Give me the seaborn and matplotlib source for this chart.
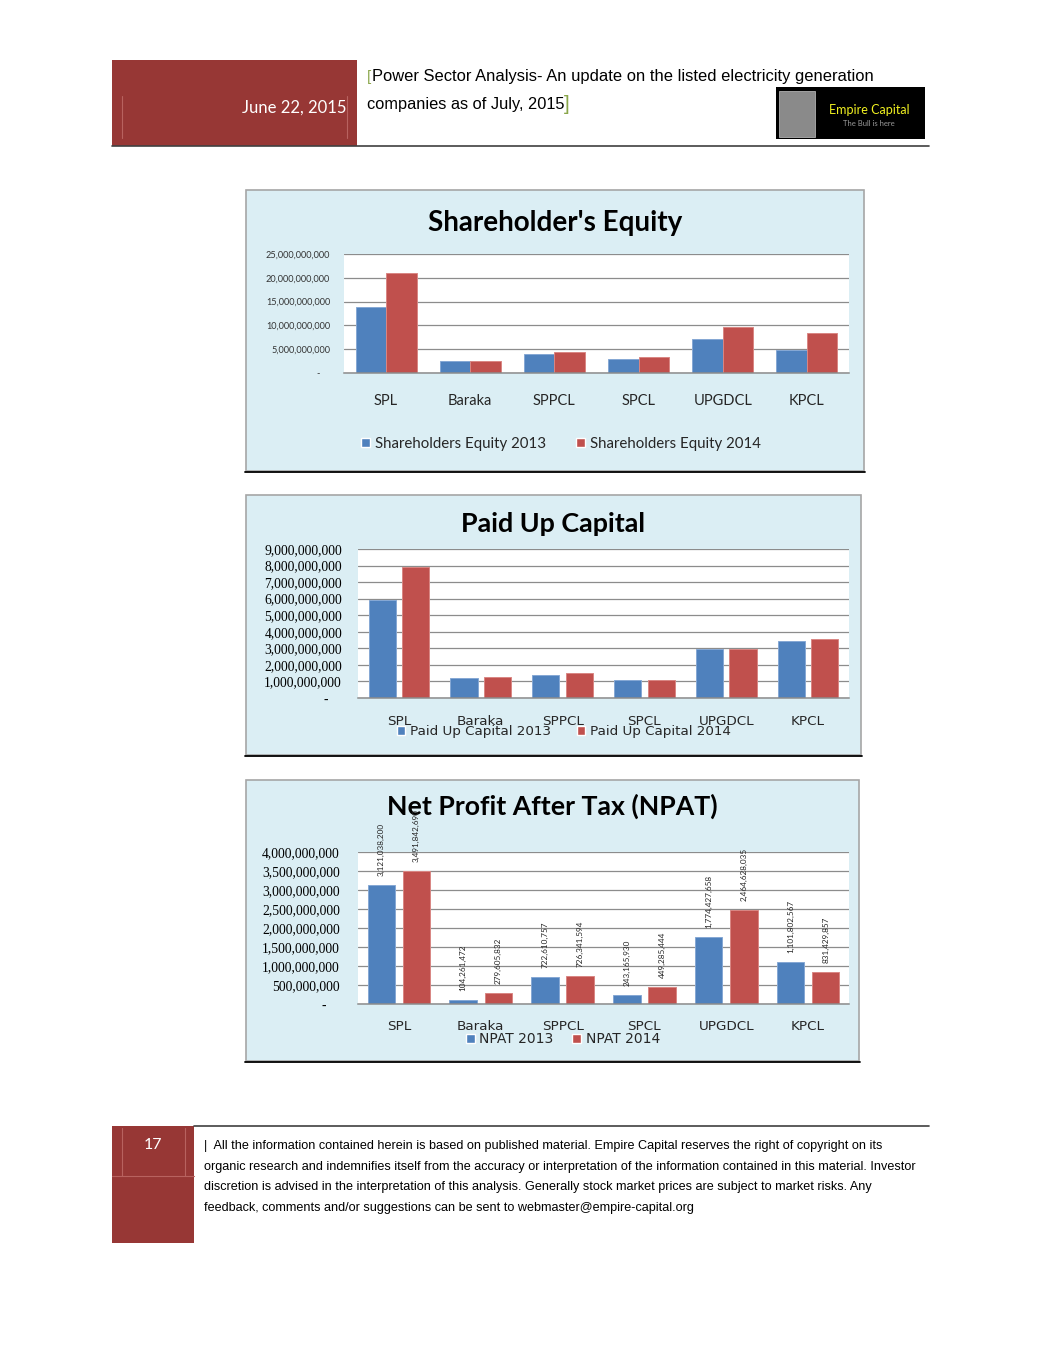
import numpy as np
import pandas as pd
import matplotlib
matplotlib.use('Agg')
import matplotlib.pyplot as plt
import seaborn as sns
from matplotlib.patches import Rectangle, Patch
from matplotlib.ticker import FuncFormatter

# data
companies = ['SPL', 'Baraka', 'SPPCL', 'SPCL', 'UPGDCL', 'KPCL']

equity_names = ['Shareholders Equity 2013', 'Shareholders Equity 2014']
equity_2013 = [13.85e9, 2.45e9, 4.05e9, 3.00e9, 7.10e9, 4.75e9]
equity_2014 = [20.95e9, 2.58e9, 4.47e9, 3.35e9, 9.57e9, 8.30e9]

paidup_names = ['Paid Up Capital 2013', 'Paid Up Capital 2014']
paidup_2013 = [5.93e9, 1.21e9, 1.36e9, 1.09e9, 2.98e9, 3.46e9]
paidup_2014 = [7.89e9, 1.28e9, 1.48e9, 1.09e9, 2.98e9, 3.58e9]

npat_names = ['NPAT 2013', 'NPAT 2014']
npat_2013 = [3121038200, 104261472, 722610757, 243165930, 1774427658, 1101802567]
npat_2014 = [3491842690, 279605832, 726341594, 449285444, 2464628035, 831429857]

footer_lines = [
    '|  All the information contained herein is based on published material. Empire Capital reserves the right of copyright on its',
    'organic research and indemnifies itself from the accuracy or interpretation of the information contained in this material. Investor',
    'discretion is advised in the interpretation of this analysis. Generally stock market prices are subject to market risks. Any',
    'feedback, comments and/or suggestions can be sent to webmaster@empire-capital.org',
]

BLUE = '#4f81bd'
RED = '#c0504d'
BLUE_EDGE = '#86a8d4'
RED_EDGE = '#d98683'
BOX = '#dbeef4'
MAROON = '#973735'
LIGHT_MAROON = '#b8625f'
GRID = '#8c8c8c'
NARROW = ['Liberation Sans', 'DejaVu Sans']

sns.set_theme(style='white')
plt.rcParams['font.family'] = ['Lato', 'DejaVu Sans']

W, H = 1041, 1347
fig = plt.figure(figsize=(W / 100, H / 100), dpi=100)
bg = fig.add_axes([0, 0, 1, 1])
bg.set_xlim(0, W)
bg.set_ylim(H, 0)
bg.axis('off')


def px_axes(x0, y0, x1, y1):
    return fig.add_axes([x0 / W, 1 - y1 / H, (x1 - x0) / W, (y1 - y0) / H])


def fmt_axis(v, pos):
    if v == 0:
        return '-    '
    return f'{v:,.0f}'


def bars(ax, v13, v14, names, width, gap):
    df = pd.DataFrame({
        'Company': companies * 2,
        'Series': [names[0]] * len(companies) + [names[1]] * len(companies),
        'Value': list(v13) + list(v14),
    })
    sns.barplot(data=df, x='Company', y='Value', hue='Series', palette=[BLUE, RED],
                width=width, gap=gap, saturation=1, legend=False, errorbar=None,
                linewidth=0, ax=ax)
    # light outline like the office charts
    for cont, ec in zip(ax.containers, [BLUE_EDGE, RED_EDGE]):
        for p in cont:
            p.set_edgecolor(ec)
            p.set_linewidth(0.7)
    ax.set_xlim(-0.5, len(companies) - 0.5)
    ax.set_xlabel('')
    ax.set_ylabel('')
    ax.set_facecolor('white')
    for s in ['top', 'right', 'left']:
        ax.spines[s].set_visible(False)
    ax.spines['bottom'].set_color(GRID)
    ax.spines['bottom'].set_linewidth(1.1)
    ax.yaxis.grid(True, color=GRID, lw=0.9)
    ax.set_axisbelow(True)
    ax.tick_params(length=0)
    ax.yaxis.set_major_formatter(FuncFormatter(fmt_axis))


def legend(ax, names, x, y, size, family, spacing):
    handles = [Patch(facecolor=BLUE, label=names[0]), Patch(facecolor=RED, label=names[1])]
    ax.legend(handles=handles, loc='center', bbox_to_anchor=(x, y), bbox_transform=bg.transData,
              ncol=2, frameon=False, handlelength=0.6, handleheight=0.6, handletextpad=0.35,
              columnspacing=spacing, borderpad=0, borderaxespad=0,
              prop={'family': family, 'size': size}, labelcolor='#262626')


# ---- page header ----
bg.add_patch(Rectangle((112, 60), 245, 86, fc=MAROON, ec='none'))
bg.plot([122, 122], [96, 138], color=LIGHT_MAROON, lw=0.8)
bg.plot([347, 347], [96, 138], color=LIGHT_MAROON, lw=0.8)
bg.text(347, 108, 'June 22, 2015', ha='right', va='center', color='white', fontsize=12)
bg.plot([112, 929], [146, 146], color='#404040', lw=1.2)
bg.text(367, 77, '[', color='#8aa64a', ha='left', va='center', fontsize=11, family=NARROW)
bg.text(372, 77, 'Power Sector Analysis- An update on the listed electricity generation',
        ha='left', va='center', fontsize=11.9, family=NARROW, color='black')
bg.text(367, 105, 'companies as of July, 2015', ha='left', va='center', fontsize=11.8,
        family=NARROW, color='black')
bg.text(564, 104, ']', color='#8aa64a', ha='left', va='center', fontsize=15, family=NARROW)

bg.add_patch(Rectangle((776, 87), 149, 52, fc='black', ec='none'))
bg.add_patch(Rectangle((779, 91), 36, 46, fc='#8a8a8a', ec='#b0b0b0', lw=0.6))
bg.text(869, 110, 'Empire Capital', color='#f0f020', ha='center', va='center', fontsize=9)
bg.text(869, 124, 'The Bull is here', color='#9a9a9a', ha='center', va='center', fontsize=5.5)

# ---- chart boxes ----
for (x0, y0, w, h) in [(246, 190, 618, 281), (246, 495, 615, 260), (246, 780, 613, 281)]:
    bg.add_patch(Rectangle((x0, y0), w, h, fc=BOX, ec='#a6a6a6', lw=1.2))
    bg.plot([x0 - 1, x0 + w + 1], [y0 + h + 0.5, y0 + h + 0.5], color='black', lw=1.3)

# ---- Shareholder's Equity ----
ax1 = px_axes(344, 254, 849, 373)
bars(ax1, equity_2013, equity_2014, equity_names, 0.725, 0)
ax1.set_ylim(0, 25e9)
ax1.set_yticks(np.arange(0, 25e9 + 1, 5e9))
ax1.tick_params(axis='y', pad=10, labelsize=6.6, labelcolor='#333333')
ax1.tick_params(axis='x', pad=15, labelsize=10.5, labelcolor='#262626')
bg.text(555, 223, "Shareholder's Equity", ha='center', va='center', fontsize=20,
        fontweight='bold', color='black')
legend(ax1, equity_names, 561, 444, 10.8, 'Lato', 2.0)

# ---- Paid Up Capital ----
ax2 = px_axes(358, 549, 849, 698)
bars(ax2, paidup_2013, paidup_2014, paidup_names, 0.82, 0.19)
ax2.set_ylim(0, 9e9)
ax2.set_yticks(np.arange(0, 9e9 + 1, 1e9))
ax2.tick_params(axis='y', pad=11.5, labelsize=9.8, labelcolor='black',
                labelfontfamily='Liberation Serif')
ax2.tick_params(axis='x', pad=12, labelsize=9.7, labelcolor='#262626',
                labelfontfamily='DejaVu Sans')
bg.text(553, 524, 'Paid Up Capital', ha='center', va='center', fontsize=19.4,
        fontweight='bold', color='black')
legend(ax2, paidup_names, 564, 732, 9.7, 'DejaVu Sans', 1.9)

# ---- NPAT ----
ax3 = px_axes(358, 852, 849, 1004)
bars(ax3, npat_2013, npat_2014, npat_names, 0.86, 0.22)
ax3.set_ylim(0, 4e9)
ax3.set_yticks(np.arange(0, 4e9 + 1, 0.5e9))
ax3.tick_params(axis='y', pad=13, labelsize=9.8, labelcolor='black',
                labelfontfamily='Liberation Serif')
ax3.tick_params(axis='x', pad=11.5, labelsize=9.7, labelcolor='#262626',
                labelfontfamily='DejaVu Sans')
for cont, vals in zip(ax3.containers, [npat_2013, npat_2014]):
    ax3.bar_label(cont, labels=[f'{v:,.0f}' for v in vals], rotation=90, padding=6.5,
                  fontsize=5.9, color='#262626')
bg.text(552, 806, 'Net Profit After Tax (NPAT)', ha='center', va='center', fontsize=19.2,
        fontweight='bold', color='black')
legend(ax3, npat_names, 563, 1039, 10, 'DejaVu Sans', 1.35)

# ---- footer ----
bg.add_patch(Rectangle((112, 1126), 82, 117, fc=MAROON, ec='none'))
bg.plot([122, 122], [1128, 1176], color=LIGHT_MAROON, lw=0.8)
bg.plot([185, 185], [1128, 1176], color=LIGHT_MAROON, lw=0.8)
bg.plot([112, 194], [1176, 1176], color=LIGHT_MAROON, lw=0.8)
bg.text(153, 1145, '17', color='white', ha='center', va='center', fontsize=11.5)
bg.plot([194, 929], [1126, 1126], color='#404040', lw=1.2)
for i, line in enumerate(footer_lines):
    bg.text(204, 1146 + i * 20.7, line, ha='left', va='center', fontsize=9.05,
            family=NARROW, color='black')

fig.savefig('out.png', dpi=100)
